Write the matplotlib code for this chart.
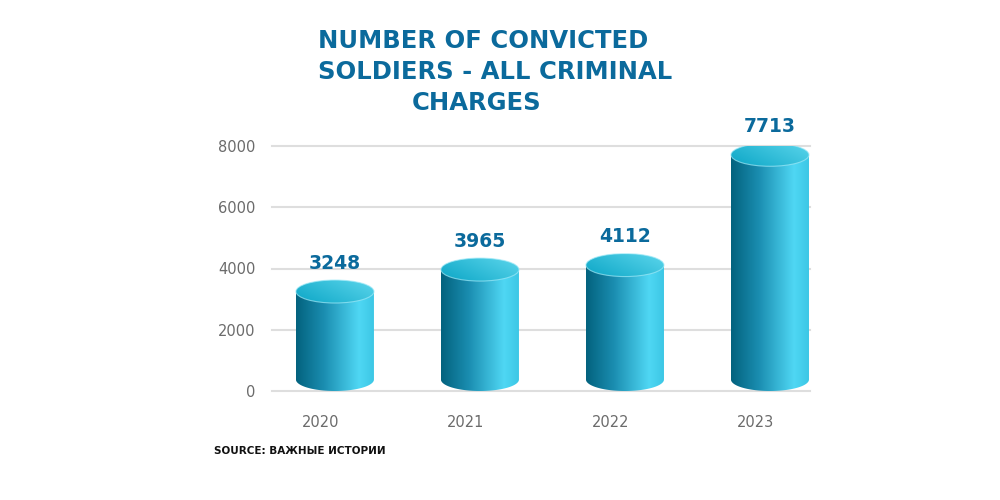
import numpy as np
import matplotlib
matplotlib.use('Agg')
import matplotlib.pyplot as plt
from matplotlib.colors import LinearSegmentedColormap
from matplotlib.patches import Ellipse, PathPatch
from matplotlib.path import Path
from matplotlib.transforms import ScaledTranslation

years = ['2020', '2021', '2022', '2023']
convicted = [3248, 3965, 4112, 7713]
yticks = [0, 2000, 4000, 6000, 8000]

title_lines = ['NUMBER OF CONVICTED', 'SOLDIERS - ALL CRIMINAL', 'CHARGES']
source = 'SOURCE: ВАЖНЫЕ ИСТОРИИ'

blue = '#0b6a9c'
grey = '#6b6b6b'
body_cmap = LinearSegmentedColormap.from_list(
    'body', [(0, '#03627e'), (0.35, '#1a8db0'), (0.8, '#4fd7f4'), (1, '#3bc6e4')])
top_cmap = LinearSegmentedColormap.from_list('top', ['#0ca6c6', '#5cd6ec'])

plt.rcParams['font.family'] = ['DejaVu Sans']
fig = plt.figure(figsize=(10, 5), dpi=100)
ax = fig.add_axes([0.272, 0.218, 0.538, 0.49])

xs = np.arange(len(years))
hw = 0.269   # half width of a cylinder (category units)
ry = 375     # half height of the ellipses (value units)

for y in yticks:
    ax.axhline(y, color='#dedede', lw=1.5, zorder=0, clip_on=False)

grad = np.linspace(0, 1, 256).reshape(1, -1)
tg = np.add.outer(np.linspace(0, 0.6, 64), np.linspace(0, 1, 256)) / 1.6
t = np.linspace(np.pi, 2 * np.pi, 60)

for x, v in zip(xs, convicted):
    # body: straight sides, rounded bottom
    verts = [(x - hw, v), (x - hw, ry)]
    verts += [(x + hw * np.cos(a), ry + ry * np.sin(a)) for a in t]
    verts += [(x + hw, v), (x - hw, v)]
    body = PathPatch(Path(verts, closed=False), fc='none', ec='none')
    ax.add_patch(body)
    im = ax.imshow(grad, cmap=body_cmap, aspect='auto', zorder=2,
                   extent=[x - hw, x + hw, 0, v], interpolation='bilinear')
    im.set_clip_path(body)

    top = Ellipse((x, v), 2 * hw, 2 * ry, fc='none', ec='none')
    ax.add_patch(top)
    im2 = ax.imshow(tg[::-1], cmap=top_cmap, aspect='auto', zorder=3,
                    extent=[x - hw, x + hw, v - ry, v + ry], interpolation='bilinear')
    im2.set_clip_path(top)
    rim = Ellipse((x, v), 2 * hw, 2 * ry, fc='none', ec='#9fe9f7', lw=0.8, alpha=0.7, zorder=4)
    ax.add_patch(rim)

    ax.text(x, v + 750, str(v), ha='center', va='baseline', color=blue,
            fontsize=13.5, fontweight='bold', zorder=5)

ax.set_xlim(-0.434, 3.276)
ax.set_ylim(0, 8000)
ax.set_yticks(yticks)
ax.set_yticklabels([str(y) for y in yticks])
ax.set_xticks(xs)
ax.set_xticklabels(years)
ax.tick_params(axis='y', length=0, pad=12, labelsize=10.5, labelcolor=grey)
ax.tick_params(axis='x', length=0, pad=17, labelsize=10.5, labelcolor=grey)
for lab in ax.get_xticklabels():
    lab.set_transform(lab.get_transform() + ScaledTranslation(-14 / 100, 0, fig.dpi_scale_trans))
for s in ax.spines.values():
    s.set_visible(False)
ax.patch.set_visible(False)

fig.text(0.318, 1 - 48 / 500, title_lines[0], ha='left', va='baseline',
         color=blue, fontsize=17.5, fontweight='bold')
fig.text(0.318, 1 - 79 / 500, title_lines[1], ha='left', va='baseline',
         color=blue, fontsize=17.5, fontweight='bold')
fig.text(0.412, 1 - 110 / 500, title_lines[2], ha='left', va='baseline',
         color=blue, fontsize=17.5, fontweight='bold')
fig.text(0.214, 1 - 454 / 500, source, ha='left', va='baseline',
         color='#111111', fontsize=7.5, fontweight='bold')

fig.savefig('out.png', dpi=100)
